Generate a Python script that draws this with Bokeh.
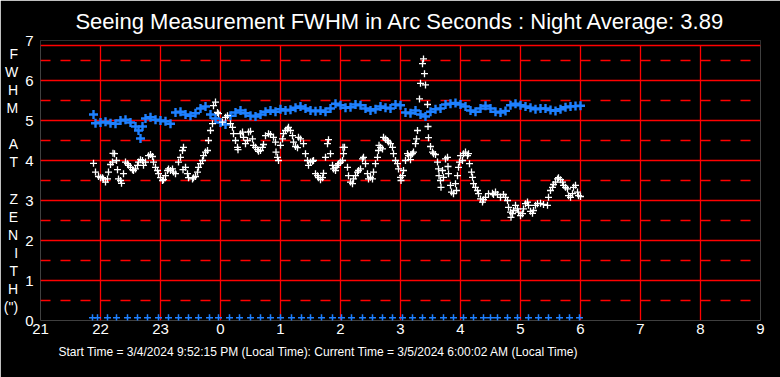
from bokeh.plotting import figure
from bokeh.models import Range1d, FixedTicker, ColumnDataSource, BoxAnnotation, Span, Title
from bokeh.embed import file_html
from bokeh.resources import INLINE

TITLE = "Seeing Measurement FWHM in Arc Seconds : Night Average: 3.89"
FOOTER = ("Start Time = 3/4/2024 9:52:15 PM (Local Time): "
          "Current Time = 3/5/2024 6:00:02 AM (Local Time)")
Y_LABEL_LINES = ["F", "W", "H", "M", "", "A", "T", "", "Z", "E", "N", "I", "T", "H", "(\")"]

hour_ticks = [21, 22, 23, 24, 25, 26, 27, 28, 29, 30, 31, 32, 33]
hour_labels = ["21", "22", "23", "0", "1", "2", "3", "4", "5", "6", "7", "8", "9"]
y_ticks = [0, 1, 2, 3, 4, 5, 6, 7]
y_grid_lines = [0, 1, 2, 3, 4, 5, 6]
y_half_ticks = [0.5, 1.5, 2.5, 3.5, 4.5, 5.5, 6.5]
y_plot_top = 6.875

# Seeing (white) : minutes after 21:00, FWHM arcsec
seeing_minutes = [
    53, 55, 58, 60, 62, 63, 65, 67, 68, 70, 72, 72.5, 74, 76, 77, 78, 80, 81, 83, 85,
    87, 88, 90, 92, 93, 95, 97, 98, 100, 102, 103, 105, 108, 110, 112, 113, 115, 117, 118, 120,
    122, 123, 125, 127, 128, 130, 132, 133, 135, 138, 140, 142, 142.5, 143, 145, 147, 148, 152, 153, 155,
    157, 158, 160, 162, 163, 165, 167, 168, 170, 172, 173, 175, 177, 178, 182, 185, 187, 190, 192, 193,
    195, 197, 197.5, 200, 202, 203, 205, 207, 208, 210, 212, 213, 215, 217, 218, 220, 222, 223, 225, 228,
    230, 233, 235, 235.5, 237, 238, 240, 242, 243, 245, 247, 248, 250, 252, 253, 255, 257, 258, 260, 263,
    265, 267, 268, 270, 272, 273, 275, 277, 278, 280, 282, 283, 285, 287, 288, 290, 292, 293, 295, 295.5,
    297, 298, 300, 302, 302.5, 303, 304, 307, 308, 310, 312, 313, 315, 317, 318, 320, 322, 323, 325, 327,
    328, 330, 332, 333, 335, 337, 338, 338.5, 340, 342, 343, 345, 347, 348, 350, 352, 353, 355, 357, 358,
    360, 360.5, 362, 363, 365, 367, 368, 370, 370.5, 372, 373, 375, 376, 377, 379, 380, 382, 383, 384, 385,
    387, 387.5, 388, 390, 392, 393, 395, 397, 398, 398.5, 400, 400.5, 402, 403, 405, 407, 407.5, 408, 410, 411,
    413, 415, 416, 417, 418, 419, 420, 422, 423, 425, 427, 428, 429, 431, 432, 433, 435, 437, 438, 440,
    442, 443, 445, 448, 452, 453, 455, 457, 460, 463, 465, 467, 468, 470, 470.5, 472, 473, 475, 477, 478,
    480, 482, 483, 485, 487, 488, 490, 492, 493, 495, 497, 500, 503, 507, 508, 510, 512, 513, 515, 517,
    518, 520, 522, 523, 525, 527, 528, 530, 532, 533, 535, 537, 538, 540,
]
seeing_fwhm = [
    3.93, 3.71, 3.60, 3.57, 3.57, 3.54, 3.46, 3.54, 3.71, 3.90, 3.96, 4.18, 4.17, 4.00, 3.77, 3.54, 3.50, 3.43, 3.67, 3.96,
    3.92, 3.88, 3.83, 3.77, 3.75, 3.79, 3.88, 3.96, 4.02, 4.00, 3.88, 3.96, 4.12, 4.15, 4.10, 3.96, 3.83, 3.75, 3.67, 3.57,
    3.50, 3.52, 3.62, 3.75, 3.79, 3.75, 3.79, 3.71, 3.67, 3.96, 4.08, 4.25, 3.77, 4.33, 3.83, 3.67, 3.57, 3.54, 3.57, 3.60,
    3.71, 3.83, 3.92, 4.00, 4.12, 4.21, 4.25, 4.50, 4.75, 4.92, 5.37, 5.46, 5.20, 5.17, 4.96, 5.08, 5.12, 4.92, 4.83, 4.67,
    4.50, 4.33, 4.27, 4.67, 4.71, 4.58, 4.42, 4.50, 4.71, 4.73, 4.54, 4.38, 4.33, 4.27, 4.23, 4.25, 4.33, 4.40, 4.62, 4.67,
    4.65, 4.58, 4.46, 4.21, 4.08, 4.00, 4.38, 4.54, 4.67, 4.75, 4.79, 4.83, 4.75, 4.62, 4.46, 4.35, 4.32, 4.58, 4.54, 4.42,
    4.17, 4.00, 3.88, 3.96, 3.98, 4.00, 3.67, 3.62, 3.57, 3.52, 3.57, 3.68, 4.08, 4.42, 4.52, 4.17, 3.88, 3.79, 3.75, 3.83,
    3.88, 3.92, 3.96, 4.00, 4.33, 4.17, 4.33, 3.83, 3.62, 3.46, 3.42, 3.54, 3.62, 3.71, 3.75, 3.79, 4.04, 4.08, 3.92, 3.67,
    3.54, 3.58, 3.54, 3.71, 3.92, 4.08, 4.25, 4.38, 4.33, 4.29, 4.58, 4.54, 4.50, 4.46, 4.42, 4.33, 4.17, 4.00, 3.92, 3.79,
    3.58, 3.50, 3.62, 3.75, 4.00, 4.17, 4.12, 4.02, 4.15, 4.17, 4.21, 4.42, 4.54, 4.75, 5.54, 5.93, 6.42, 6.54, 6.17, 5.89,
    5.40, 4.85, 4.57, 4.35, 4.21, 4.17, 4.15, 3.96, 3.79, 3.62, 3.50, 3.33, 3.75, 3.58, 4.04, 4.08, 3.85, 3.67, 3.38, 3.21,
    3.17, 3.42, 3.25, 3.62, 3.83, 3.96, 4.12, 4.00, 4.17, 4.21, 4.12, 4.17, 3.92, 3.71, 3.58, 3.42, 3.33, 3.25, 3.17, 3.04,
    2.96, 3.02, 3.08, 3.17, 3.18, 3.15, 3.21, 3.15, 3.08, 3.15, 3.08, 3.00, 2.83, 2.71, 2.58, 2.67, 2.75, 2.88, 2.79, 2.71,
    2.62, 2.67, 2.79, 2.92, 2.96, 2.88, 2.73, 2.68, 2.75, 2.88, 2.92, 2.93, 2.90, 2.88, 3.08, 3.25, 3.33, 3.40, 3.46, 3.54,
    3.57, 3.52, 3.46, 3.38, 3.33, 3.29, 3.12, 3.08, 3.17, 3.33, 3.38, 3.21, 3.12, 3.10,
]

# FWHM at zenith (blue) : minutes after 21:00
zenith_minutes = [
    53, 55, 60, 65, 70, 75, 80, 85, 90, 95, 98, 100, 102, 105, 110, 115, 120, 125, 130, 135,
    140, 145, 150, 155, 160, 165, 170, 175, 180, 185, 190, 195, 200, 205, 210, 215, 220, 225, 230, 235,
    240, 245, 250, 255, 260, 265, 270, 275, 280, 285, 290, 295, 300, 305, 310, 315, 320, 325, 330, 335,
    340, 345, 350, 355, 360, 365, 370, 375, 380, 385, 390, 395, 400, 405, 410, 415, 420, 425, 430, 435,
    440, 445, 450, 455, 460, 465, 470, 475, 480, 485, 490, 495, 500, 505, 510, 515, 520, 525, 530, 535, 540,
]
zenith_fwhm = [
    5.15, 4.93, 4.95, 4.97, 4.93, 4.92, 5.00, 5.02, 4.95, 4.85, 4.75, 4.55, 4.85, 5.05, 5.08, 5.02, 5.00, 4.98, 4.92, 5.20,
    5.22, 5.15, 5.12, 5.18, 5.30, 5.35, 5.15, 5.05, 4.95, 4.90, 5.12, 5.20, 5.25, 5.18, 5.12, 5.10, 5.15, 5.22, 5.25, 5.22,
    5.28, 5.25, 5.27, 5.32, 5.35, 5.30, 5.25, 5.23, 5.25, 5.22, 5.30, 5.42, 5.38, 5.32, 5.33, 5.40, 5.38, 5.30, 5.25, 5.28,
    5.35, 5.32, 5.30, 5.40, 5.38, 5.20, 5.18, 5.25, 5.15, 5.10, 5.22, 5.28, 5.30, 5.40, 5.42, 5.44, 5.40, 5.35, 5.25, 5.22,
    5.30, 5.37, 5.30, 5.22, 5.20, 5.24, 5.38, 5.42, 5.38, 5.35, 5.32, 5.28, 5.30, 5.30, 5.26, 5.24, 5.28, 5.33, 5.35, 5.36, 5.37,
]

# sample markers along the bottom (blue)
sample_minutes = [
    52, 57, 67, 76, 87, 97, 107, 118, 128, 138, 148, 158, 169, 178, 189, 199, 210, 220, 230, 240,
    251, 261, 270, 281, 292, 301, 311, 322, 332, 342, 352, 362, 372, 382, 392, 403, 413, 423, 433, 443,
    450, 457, 467, 477, 488, 498, 508, 519, 529, 539,
]
sample_level = [0.07] * len(sample_minutes)

FONT = "Liberation Sans"
RED = "#ff0000"
BLUE = "#1e80ff"

p = figure(width=780, height=377, x_range=Range1d(21, 33), y_range=Range1d(0, 7),
           output_backend="svg", toolbar_location=None,
           background_fill_color="black", border_fill_color="black",
           min_border_left=40, min_border_right=20, min_border_top=40, min_border_bottom=57)
p.outline_line_color = None

p.title.text = TITLE
p.title.align = "center"
p.title.text_color = "white"
p.title.text_font = FONT
p.title.text_font_size = "22px"
p.title.text_font_style = "normal"
p.title.standoff = 13

p.add_layout(Title(text=FOOTER, align="left", offset=18, standoff=13, text_color="white",
                   text_font=FONT, text_font_size="12px",
                   text_font_style="normal"), "below")

p.xaxis.ticker = FixedTicker(ticks=hour_ticks)
p.xaxis.major_label_overrides = {t: l for t, l in zip(hour_ticks, hour_labels)}
p.yaxis.ticker = FixedTicker(ticks=y_ticks, minor_ticks=y_half_ticks)
for ax in (p.xaxis, p.yaxis):
    ax.axis_line_color = None
    ax.major_tick_line_color = None
    ax.minor_tick_line_color = None
    ax.major_tick_out = 0
    ax.major_tick_in = 0
    ax.minor_tick_out = 0
    ax.minor_tick_in = 0
    ax.major_label_text_color = "white"
    ax.major_label_text_font = FONT
    ax.major_label_text_font_size = "15px"
p.xaxis.major_label_standoff = 3
p.yaxis.major_label_standoff = 7

p.yaxis.axis_label = "\n".join(Y_LABEL_LINES)
p.yaxis.axis_label_orientation = "horizontal"
p.yaxis.axis_label_text_color = "white"
p.yaxis.axis_label_text_font = FONT
p.yaxis.axis_label_text_font_size = "14px"
p.yaxis.axis_label_text_font_style = "normal"
p.yaxis.axis_label_text_line_height = 1.13
p.yaxis.axis_label_text_align = "left"
p.yaxis.axis_label_standoff = 4

p.xgrid.grid_line_color = RED
p.xgrid.grid_line_width = 1.3
p.ygrid.ticker = FixedTicker(ticks=y_grid_lines, minor_ticks=y_half_ticks)
p.ygrid.grid_line_color = RED
p.ygrid.grid_line_width = 1.3
p.ygrid.minor_grid_line_color = RED
p.ygrid.minor_grid_line_width = 1.3
p.ygrid.minor_grid_line_dash = "10 10"

# the plotting box ends a little below the "7" tick
p.add_layout(BoxAnnotation(bottom=y_plot_top, fill_color="black", fill_alpha=1.0, line_color=None,
                           level="underlay"))
p.add_layout(Span(location=y_plot_top, dimension="width", line_color=RED, line_width=1.3,
                  level="underlay"))

zen = ColumnDataSource(dict(x=[21 + m / 60 for m in zenith_minutes], y=zenith_fwhm))
see = ColumnDataSource(dict(x=[21 + m / 60 for m in seeing_minutes], y=seeing_fwhm))
smp = ColumnDataSource(dict(x=[21 + m / 60 for m in sample_minutes], y=sample_level))

p.scatter("x", "y", source=zen, marker="cross", size=9, line_color=BLUE, line_width=2.4)
p.scatter("x", "y", source=smp, marker="cross", size=7, line_color=BLUE, line_width=1.5)
p.scatter("x", "y", source=see, marker="cross", size=7, line_color="white", line_width=1.3)

open("out.html", "w").write(file_html(p, INLINE))
